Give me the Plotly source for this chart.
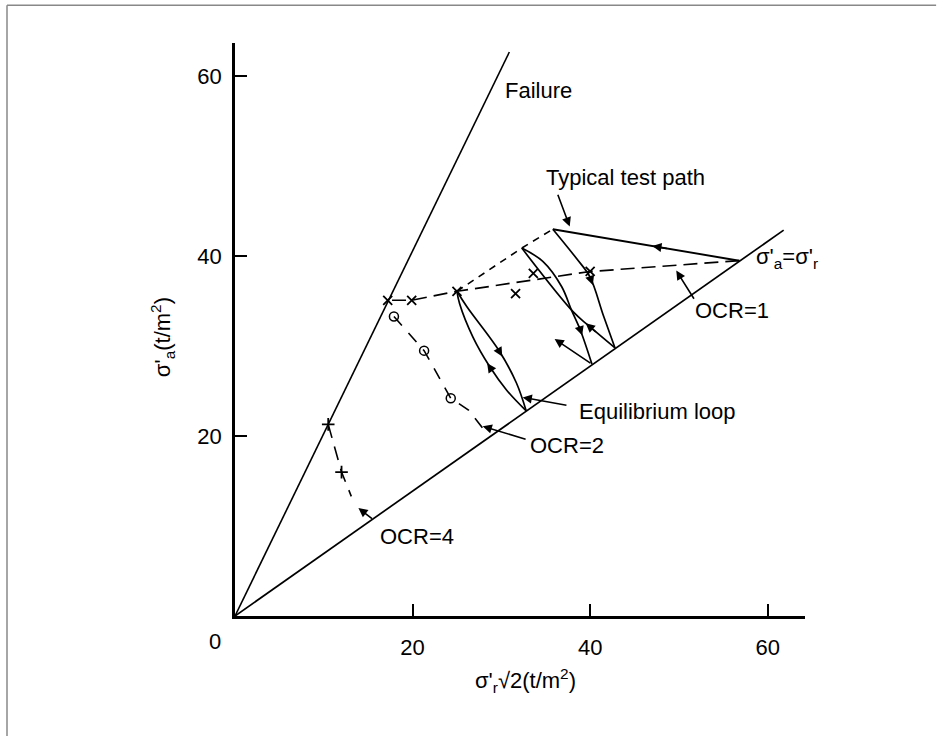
import plotly.graph_objects as go

FONT = "Liberation Sans"

# ---- axes ----
x_range = [0, 64.2]
y_range = [0, 63.7]
x_ticks = [20, 40, 60]
y_ticks = [20, 40, 60]

# ---- reference lines ----
failure_x = [0, 30.9]
failure_y = [0, 62.7]
k0_x = [0, 61.8]
k0_y = [0, 42.9]

# ---- OCR = 1 dashed path and its markers ----
ocr1_x = [56.8, 40.0, 25.0, 19.9, 17.2]
ocr1_y = [39.5, 38.3, 36.1, 35.1, 35.1]
env_x = [25.0, 32.3, 35.8]
env_y = [36.1, 40.9, 43.0]
xmark_x = [17.2, 19.9, 25.0, 31.6, 33.6, 40.0]
xmark_y = [35.1, 35.1, 36.1, 35.85, 38.1, 38.3]

# ---- OCR = 2 path ----
ocr2_x = [17.9, 21.3, 24.3, 26.3, 28.2]
ocr2_y = [33.3, 29.5, 24.2, 22.9, 20.5]
circ_x = [17.9, 21.3, 24.3]
circ_y = [33.3, 29.5, 24.2]

# ---- OCR = 4 path ----
ocr4_x = [10.5, 12.0, 13.1]
ocr4_y = [21.3, 16.0, 13.3]
plus_x = [10.5, 12.0]
plus_y = [21.3, 16.0]

# ---- typical test path ----
load_x = [56.8, 35.8]
load_y = [39.5, 43.0]
unload1_x = [35.8, 38.47, 39.98, 41.48, 42.8]
unload1_y = [43.0, 39.74, 37.70, 33.44, 29.8]
reload1_x = [42.8, 39.8, 38.1, 32.3]
reload1_y = [29.8, 32.3, 33.8, 40.9]
unload2_x = [32.3, 34.7, 36.8, 37.9, 38.85, 40.2]
unload2_y = [40.9, 39.4, 36.6, 34.0, 31.9, 28.0]

# ---- equilibrium loop ----
eq_left_x = [25.0, 25.3, 26.8, 28.7, 30.6, 32.8]
eq_left_y = [36.1, 34.7, 31.0, 27.7, 25.1, 22.8]
eq_right_x = [25.0, 26.1, 29.8, 31.7, 32.8]
eq_right_y = [36.1, 34.4, 29.4, 25.9, 22.8]

# ---- direction arrows on paths: (tip_x, tip_y, tail_x, tail_y) ----
path_arrows = [
    (47.0, 41.13, 48.8, 40.83),   # loading, leftwards
    (40.3, 36.8, 39.98, 37.7),    # unload 1, down
    (39.5, 32.55, 40.8, 31.45),   # reload 1, up-left
    (39.1, 31.2, 38.7, 32.4),     # unload 2, down
    (36.0, 30.8, 40.2, 28.0),     # reload 2 start, up-left
    (30.1, 28.85, 29.6, 29.7),    # eq loop, down
    (28.4, 28.1, 29.1, 27.1),     # eq loop, up
]

# ---- labels: (text, x, y, xanchor) and their pointer arrows ----
labels = [
    ("Failure", 30.2, 58.4, "left"),
    ("Typical test path", 44.0, 48.8, "center"),
    ("σ'<sub>a</sub>=σ'<sub>r</sub>", 58.4, 39.8, "left"),
    ("OCR=1", 56.0, 34.0, "center"),
    ("Equilibrium loop", 38.5, 22.7, "left"),
    ("OCR=2", 33.0, 19.0, "left"),
    ("OCR=4", 16.1, 8.8, "left"),
]
label_arrows = [
    (37.7, 43.3, 36.3, 47.0),
    (49.7, 38.4, 51.8, 35.1),
    (32.4, 24.3, 37.5, 23.4),
    (27.9, 21.1, 32.9, 19.6),
    (13.9, 12.0, 15.6, 10.7),
]

fig = go.Figure()

def line(x, y, width=1.5, dash="solid", shape="linear"):
    fig.add_trace(go.Scatter(x=x, y=y, mode="lines",
                             line=dict(color="black", width=width, dash=dash, shape=shape),
                             hoverinfo="skip", showlegend=False))

line(failure_x, failure_y, 1.6)
line(k0_x, k0_y, 1.7)
line(ocr1_x, ocr1_y, 1.7, "14px,7px")
line(env_x, env_y, 1.6, "7px,6px")
line(ocr2_x, ocr2_y, 1.6, "12px,10px")
line(ocr4_x, ocr4_y, 1.6, "14px,9px")
line(load_x, load_y, 1.9)
line(unload1_x, unload1_y, 1.7, shape="spline")
line(reload1_x, reload1_y, 1.7, shape="spline")
line(unload2_x, unload2_y, 1.7, shape="spline")
line(eq_left_x, eq_left_y, 1.7, shape="spline")
line(eq_right_x, eq_right_y, 1.7, shape="spline")

fig.add_trace(go.Scatter(x=xmark_x, y=xmark_y, mode="markers",
                         marker=dict(symbol="x-thin-open", size=9, color="black",
                                     line=dict(color="black", width=1.8)),
                         hoverinfo="skip", showlegend=False))
fig.add_trace(go.Scatter(x=circ_x, y=circ_y, mode="markers",
                         marker=dict(symbol="circle-open", size=9, color="black",
                                     line=dict(color="black", width=1.5)),
                         hoverinfo="skip", showlegend=False))
fig.add_trace(go.Scatter(x=plus_x, y=plus_y, mode="markers",
                         marker=dict(symbol="cross-thin-open", size=9, color="black",
                                     line=dict(color="black", width=1.8)),
                         hoverinfo="skip", showlegend=False))

TEXT_SIZE = 22

annotations = []
for tx, ty, ax, ay in path_arrows + label_arrows:
    annotations.append(dict(x=tx, y=ty, ax=ax, ay=ay, xref="x", yref="y",
                            axref="x", ayref="y", text="", showarrow=True,
                            arrowhead=2, arrowsize=1.15, arrowwidth=1.6,
                            arrowcolor="black", standoff=0, startstandoff=0))
for text, x, y, xa in labels:
    annotations.append(dict(x=x, y=y, xref="x", yref="y", text=text,
                            showarrow=False, xanchor=xa, yanchor="middle",
                            font=dict(family=FONT, size=TEXT_SIZE, color="black")))

# axis titles and the shared origin label
annotations.append(dict(x=0.509, y=-0.112, xref="paper", yref="paper",
                        text="σ'<sub>r</sub>√2(t/m<sup>2</sup>)", showarrow=False,
                        xanchor="center", yanchor="middle",
                        font=dict(family=FONT, size=TEXT_SIZE, color="black")))
annotations.append(dict(x=-0.126, y=0.487, xref="paper", yref="paper",
                        text="σ'<sub>a</sub>(t/m<sup>2</sup>)", showarrow=False,
                        textangle=-90, xanchor="center", yanchor="middle",
                        font=dict(family=FONT, size=TEXT_SIZE, color="black")))
annotations.append(dict(x=-0.035, y=-0.045, xref="paper", yref="paper",
                        text="0", showarrow=False, xanchor="center", yanchor="middle",
                        font=dict(family=FONT, size=TEXT_SIZE, color="black")))

axis_common = dict(showgrid=False, zeroline=False, showline=True, linecolor="black",
                   linewidth=2.5, ticks="inside", ticklen=12, tickwidth=1.5,
                   tickcolor="black",
                   tickfont=dict(family=FONT, size=TEXT_SIZE, color="black"))

fig.update_layout(
    width=938, height=736,
    margin=dict(l=235, r=133, t=43, b=120),
    plot_bgcolor="white", paper_bgcolor="white",
    xaxis=dict(range=x_range, tickvals=x_ticks, ticklabelstandoff=10, **axis_common),
    yaxis=dict(range=y_range, tickvals=y_ticks, ticklabelstandoff=6, **axis_common),
    annotations=annotations,
    shapes=[
        dict(type="line", xref="paper", yref="paper", x0=-0.40, x1=1.23, y0=1.066, y1=1.066,
             line=dict(color="#888888", width=1.5)),
        dict(type="line", xref="paper", yref="paper", x0=-0.40, x1=-0.40, y0=1.066, y1=-0.21,
             line=dict(color="#888888", width=1.5)),
    ],
)

fig.write_html("out.html",
               config={"displayModeBar": False},
               post_script="document.body.style.margin='0px';document.body.style.overflow='hidden';")
